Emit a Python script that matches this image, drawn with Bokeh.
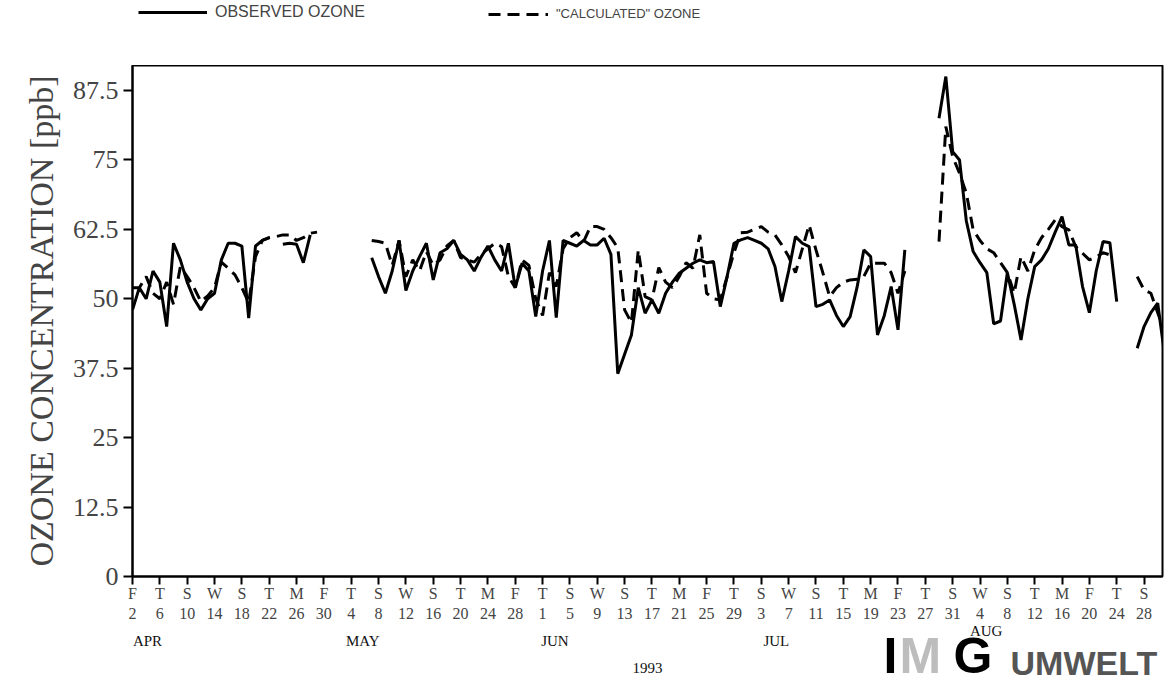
import numpy as np
from bokeh.plotting import figure
from bokeh.models import Range1d, FixedTicker, LinearAxis, Legend
from bokeh.layouts import column
from bokeh.embed import file_html
from bokeh.resources import INLINE
from bokeh.core.properties import value

# Daily ozone, day 0 = Friday 2 April 1993; None marks missing days
observed = [
    48, 52, 50, 55, 53, 45, 60, 57, 53, 50,
    48, 50, 51, 57, 60, 60, 59.5, 46.5, 59.5, 60.5,
    61, None, 59.8, 60, 59.8, 56.5, 61.5, None, None, None,
    None, None, None, None, None, 57.4, 54, 51, 55, 60.5,
    51.5, 55, 57.6, 60, 53.4, 58.3, 59, 60.5, 58, 57,
    55, 57.5, 59.5, 57, 55, 60, 52, 56.4, 55, 46.8,
    55, 60.5, 46.6, 60.5, 60, 59.5, 60.5, 59.7, 59.7, 60.9,
    58, 36.5, 40, 43.5, 52, 47.4, 49.8, 47.4, 51, 53,
    54.6, 55.5, 56.4, 57, 56.5, 56.7, 48.6, 54, 60, 60.6,
    61, 60.5, 60, 59, 55.8, 49.5, 55, 61.2, 60, 59.4,
    48.6, 49, 49.8, 47, 45, 46.8, 52, 58.8, 57.6, 43.5,
    47, 52.2, 44.4, 58.8, None, None, None, None, 82.5, 90,
    76.5, 75, 64, 58.5, 56.5, 54.7, 45.5, 46, 54.7, 49,
    42.6, 50, 55.8, 57, 59, 62, 64.8, 59.7, 59.7, 52.2,
    47.5, 55, 60.3, 60.1, 49.5, None, None, 41.1, 45, 47.5,
    49.2, 40,
]

calculated = [
    52, 52, 54, 51, 50, 53, 49, 55.8, 54, 52,
    49.5, 50.5, 52, 56.6, 55.5, 54.3, 52, 49.3, 57.6, 60.5,
    61, 61.2, 61.5, 61.5, 60.5, 61, 61.8, 62, None, None,
    None, None, None, None, None, 60.5, 60.3, 60, 56, 60.5,
    54, 57, 55, 58.5, 56, 57, 59.5, 60.5, 57.4, 57,
    56.6, 58, 59, 60, 59.4, 54, 52, 57, 56, 50,
    47, 54.7, 52.2, 59, 61, 61.9, 60.3, 63, 63, 62.5,
    61, 59.2, 48, 45.7, 58.8, 50.4, 49.8, 55.6, 53, 52,
    54, 56.5, 55.5, 61.5, 51, 50, 49.8, 54, 58.3, 61.9,
    62, 62.5, 63, 62, 61.5, 59.7, 57.6, 54.7, 59, 63.3,
    58.8, 54.7, 50.4, 52, 53, 53.4, 53.5, 54, 56.4, 56.4,
    56.4, 54.7, 51, 55, None, None, None, None, 60.3, 81,
    75.6, 72.6, 69, 62.4, 60.5, 59, 58.3, 56.5, 54.7, 51,
    57.6, 55, 58.8, 61, 62.5, 64.2, 63, 62.4, 59.4, 58.2,
    57, 57.5, 58.3, 57.9, None, None, None, 54, 51.6, 51,
    47.5, 44,
]

days = list(range(len(observed)))

# Tick labels every fourth day: weekday initial over day of month
tick_weekday = ["F", "T", "S", "W", "S", "T", "M", "F", "T", "S", "W", "S", "T",
                "M", "F", "T", "S", "W", "S", "T", "M", "F", "T", "S", "W", "S",
                "T", "M", "F", "T", "S", "W", "S", "T", "M", "F", "T", "S"]
tick_daynum = [2, 6, 10, 14, 18, 22, 26, 30, 4, 8, 12, 16, 20, 24, 28, 1, 5, 9,
               13, 17, 21, 25, 29, 3, 7, 11, 15, 19, 23, 27, 31, 4, 8, 12, 16,
               20, 24, 28]
month_names = ["APR", "MAY", "JUN", "JUL", "AUG"]
month_pos = [2.2, 33.7, 61.8, 94.2, 124.9]
year_label = "1993"
y_ticks = [0, 12.5, 25, 37.5, 50, 62.5, 75, 87.5]
y_tick_labels = ["0", "12.5", "25", "37.5", "50", "62.5", "75", "87.5"]

obs = np.array(observed, dtype=float)
calc = np.array(calculated, dtype=float)

SERIF = "Liberation Serif"
SANS = "Liberation Sans"
DASH = "12 7"
LEFT, RIGHT = 132, 7
X_RANGE = Range1d(0, 150.7)

# ---- main chart ----
p = figure(width=1169, height=559, x_range=X_RANGE, y_range=Range1d(0, 92),
           output_backend="svg", toolbar_location=None,
           x_axis_type=None, y_axis_type=None,
           min_border_left=LEFT, min_border_right=RIGHT, min_border_top=0,
           min_border_bottom=47)
p.outline_line_color = "black"
p.outline_line_width = 2
p.background_fill_color = "white"
p.border_fill_color = "white"

p.line(days, calc, line_color="black", line_width=3, line_dash=DASH)
p.line(days, obs, line_color="black", line_width=3)

yaxis = LinearAxis(ticker=FixedTicker(ticks=y_ticks))
yaxis.major_label_overrides = {t: s for t, s in zip(y_ticks, y_tick_labels)}
yaxis.axis_label = "OZONE CONCENTRATION [ppb]"
yaxis.axis_label_text_font = SERIF
yaxis.axis_label_text_font_size = "34px"
yaxis.axis_label_text_font_style = "normal"
yaxis.axis_label_standoff = 10
yaxis.major_label_text_font = SERIF
yaxis.major_label_text_font_size = "26px"
yaxis.major_label_standoff = 5
yaxis.major_tick_out = 9
yaxis.major_tick_in = 0
yaxis.minor_tick_out = 0
yaxis.minor_tick_in = 0
yaxis.axis_line_width = 2
yaxis.major_tick_line_width = 2
p.add_layout(yaxis, "left")

tick_days = [4 * i for i in range(len(tick_weekday))]
xaxis = LinearAxis(ticker=FixedTicker(ticks=tick_days))
xaxis.major_label_overrides = {d: f"{w}\n{n}" for d, w, n in zip(tick_days, tick_weekday, tick_daynum)}
xaxis.major_label_text_font = SERIF
xaxis.major_label_text_font_size = "16px"
xaxis.major_label_standoff = 0
xaxis.major_tick_out = 8
xaxis.major_tick_in = 0
xaxis.minor_tick_out = 0
xaxis.minor_tick_in = 0
xaxis.axis_line_width = 2
xaxis.major_tick_line_width = 2
p.add_layout(xaxis, "below")

# ---- month names, year and company mark beneath the axis ----
BOTTOM_H = 60
bt = figure(width=1169, height=BOTTOM_H, x_range=X_RANGE, y_range=Range1d(0, BOTTOM_H),
            output_backend="svg", toolbar_location=None,
            x_axis_type=None, y_axis_type=None,
            min_border_left=LEFT, min_border_right=RIGHT, min_border_top=0,
            min_border_bottom=0)
bt.outline_line_color = None
bt.grid.visible = False
bt.extra_x_ranges = {"px": Range1d(LEFT, 1169 - RIGHT)}

month_y = [44, 44, 44, 44, 54]
bt.text(x=month_pos, y=month_y, text=month_names, text_font=value(SERIF),
        text_font_size="15px", text_align="center", text_baseline="middle",
        text_color="#111111")
bt.text(x=[(X_RANGE.start + X_RANGE.end) / 2], y=[17], text=[year_label],
        text_font=value(SERIF), text_font_size="15px", text_align="center",
        text_baseline="middle", text_color="#111111")

# I M G in large letters, UMWELT smaller, all sharing one baseline
logo_text = ["I", "M", "G", "UMWELT"]
logo_x = [883, 899, 953, 1010]
logo_mid = [29, 29, 29, 22]
logo_color = ["black", "#bdbdbd", "black", "#555555"]
logo_size = ["50px", "50px", "50px", "34px"]
for t, xs, ym, c, s in zip(logo_text, logo_x, logo_mid, logo_color, logo_size):
    bt.text(x=[xs], y=[ym], text=[t], x_range_name="px", text_font=value(SANS),
            text_font_style="bold", text_font_size=s, text_color=c,
            text_align="left", text_baseline="middle")

# ---- legend strip ----
lg = figure(width=1169, height=65, x_range=Range1d(0, 1), y_range=Range1d(0, 1),
            output_backend="svg", toolbar_location=None,
            x_axis_type=None, y_axis_type=None,
            min_border_left=LEFT, min_border_right=RIGHT, min_border_top=0,
            min_border_bottom=0)
lg.outline_line_color = None
lg.grid.visible = False
k_obs = lg.line(x=[np.nan, np.nan], y=[np.nan, np.nan], line_color="black", line_width=3)
k_calc = lg.line(x=[np.nan, np.nan], y=[np.nan, np.nan], line_color="black", line_width=3,
                 line_dash=DASH)

for items, loc, gw, fs in [([("OBSERVED OZONE", [k_obs])], (6, 44), 69, "16px"),
                           ([("\"CALCULATED\" OZONE", [k_calc])], (356, 44), 60, "13px")]:
    leg = Legend(items=items, location=loc, orientation="horizontal",
                 glyph_width=gw, glyph_height=14, label_height=14,
                 label_standoff=8, padding=0, margin=0, spacing=0,
                 border_line_color=None, background_fill_alpha=0,
                 label_text_font=SANS, label_text_font_size=fs)
    lg.add_layout(leg)

layout = column(lg, p, bt, spacing=0)
open("out.html", "w").write(file_html(layout, INLINE))
